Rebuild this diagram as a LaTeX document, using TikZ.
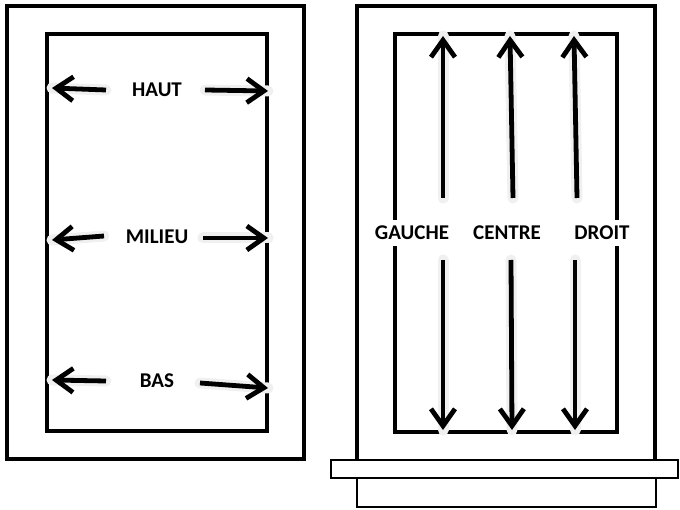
\documentclass[tikz,border=0pt]{standalone}
\usepackage{fontspec}
\setmainfont{Carlito}
\usetikzlibrary{arrows.meta}

\begin{document}
\begin{tikzpicture}[x=1pt,y=-1pt,
  mot/.style={font=\fontsize{21}{25}\selectfont\bfseries},
  coupe/.style={mot,fill=white,inner sep=6pt},
  fleche/.style={->,>={Straight Barb[length=17pt,width=24pt]},line width=4.8pt,
    preaction={draw=gray!12,line width=11pt,line cap=round,-}},
  cadre/.style={line width=4pt},
  socle/.style={line width=2pt}]
\useasboundingbox (0,0) rectangle (680,510);

% panneau gauche
\draw[cadre] (7,6) rectangle (304,459);
\draw[cadre] (47,34) rectangle (267,431);

\node[mot](haut) at (157,90){HAUT};
\node[mot](milieu) at (157,237){MILIEU};
\node[mot](bas) at (157,381){BAS};

\coordinate(h1) at (106,90);  \coordinate(h2) at (52,88);
\coordinate(h3) at (205,90);  \coordinate(h4) at (268,91);
\coordinate(m1) at (104,236); \coordinate(m2) at (52,240);
\coordinate(m3) at (203,238); \coordinate(m4) at (268,238);
\coordinate(b1) at (106,381); \coordinate(b2) at (52,380);
\coordinate(b3) at (200,383); \coordinate(b4) at (268,388);

\draw[fleche](h1)--(h2);
\draw[fleche](h3)--(h4);
\draw[fleche](m1)--(m2);
\draw[fleche](m3)--(m4);
\draw[fleche](b1)--(b2);
\draw[fleche](b3)--(b4);

% panneau droit
\draw[cadre] (357,460) |- (655,6) -- (655,460);
\draw[cadre] (395,34) rectangle (617,432);
\draw[socle] (331,460) rectangle (678,478);
\draw[socle] (357,478) rectangle (656,507);

\node[coupe](gauche) at (412,233){GAUCHE};
\node[coupe](centre) at (507,233){CENTRE};
\node[coupe](droit) at (602,233){DROIT};

\coordinate(g1) at (443,198); \coordinate(g2) at (443,36);
\coordinate(g3) at (443,260); \coordinate(g4) at (443,430);
\coordinate(c1) at (513,198); \coordinate(c2) at (510,36);
\coordinate(c3) at (511,260); \coordinate(c4) at (512,430);
\coordinate(d1) at (577,198); \coordinate(d2) at (574,36);
\coordinate(d3) at (575,260); \coordinate(d4) at (575,430);

\draw[fleche](g1)--(g2);
\draw[fleche](g3)--(g4);
\draw[fleche](c1)--(c2);
\draw[fleche](c3)--(c4);
\draw[fleche](d1)--(d2);
\draw[fleche](d3)--(d4);
\end{tikzpicture}
\end{document}
